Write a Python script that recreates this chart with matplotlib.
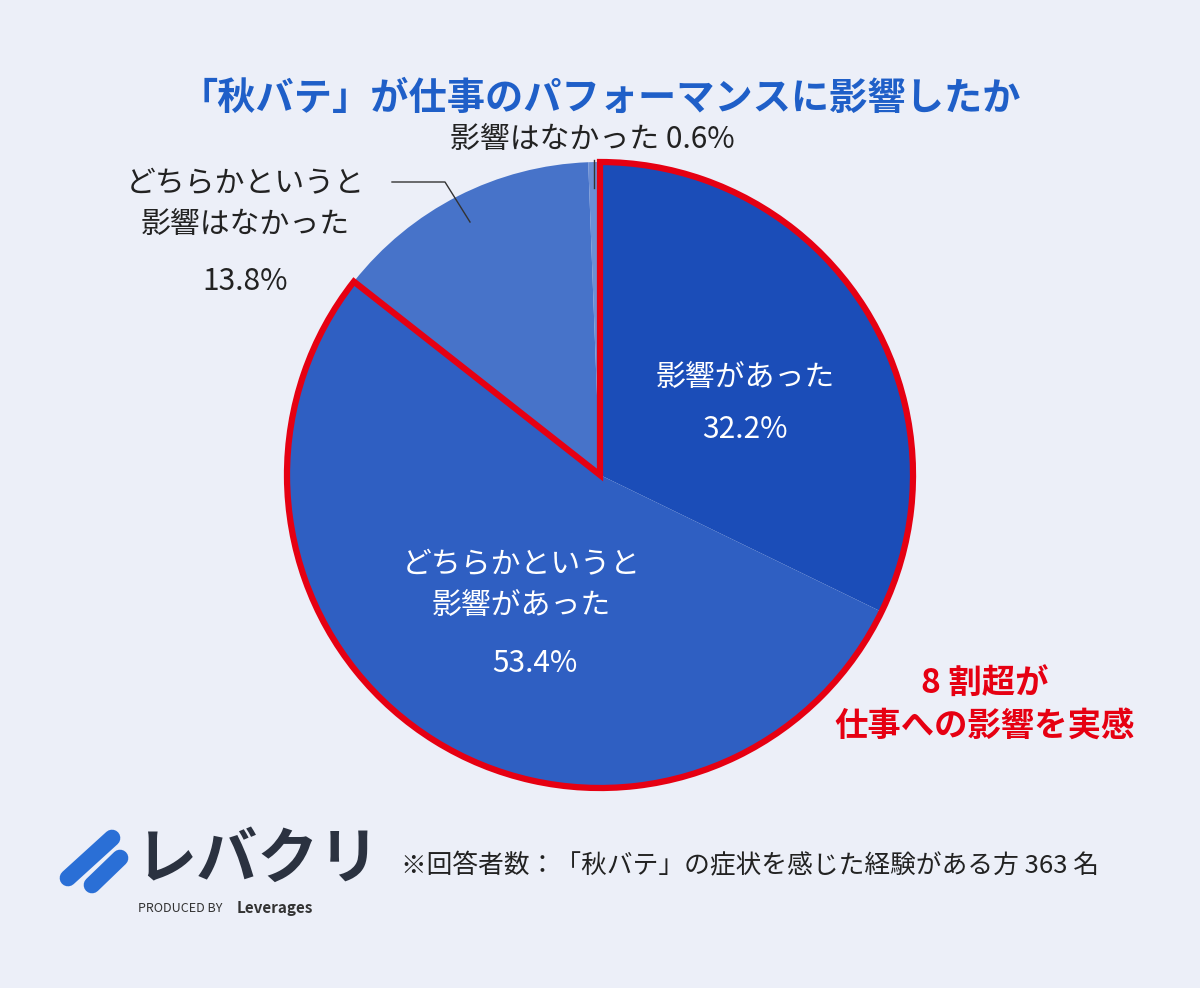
import matplotlib
matplotlib.use("Agg")
import matplotlib.pyplot as plt
from matplotlib.patches import Wedge

plt.rcParams['font.family'] = ['Noto Sans CJK JP', 'DejaVu Sans']

labels = ["影響があった", "どちらかというと\n影響があった", "どちらかというと\n影響はなかった", "影響はなかった"]
values = [32.2, 53.4, 13.8, 0.6]
colors = ["#1b4db8", "#2f5fc2", "#4773c9", "#6b8fd4"]

fig = plt.figure(figsize=(12, 9.88), dpi=100)
fig.patch.set_facecolor("#eceff8")
ax = fig.add_axes([0, 0, 1, 1])
ax.set_facecolor("#eceff8")

cx, cy, r = 600, 988 - 475, 313
ax.pie(values, colors=colors, startangle=90, counterclock=False, center=(cx, cy),
       radius=r, frame=True, wedgeprops=dict(linewidth=0))
ax.set_xlim(0, 1200); ax.set_ylim(0, 988); ax.set_aspect('equal'); ax.axis('off')

span = (values[0] + values[1]) / 100 * 360
ax.add_patch(Wedge((cx, cy), r, 90 - span, 90, fill=False, edgecolor="#e60012", lw=4.5, joinstyle='miter'))

ax.text(600, 988 - 98, "「秋バテ」が仕事のパフォーマンスに影響したか", ha='center', va='center',
        fontsize=27.5, fontweight='bold', color="#1f5fc8")

fs = 21.5
ax.text(745, 988 - 378, "影響があった", ha='center', va='center', fontsize=fs, color='white')
ax.text(745, 988 - 430, "32.2%", ha='center', va='center', fontsize=fs, color='white')
ax.text(521, 988 - 585, "どちらかというと\n影響があった", ha='center', va='center', fontsize=fs,
        color='white', linespacing=1.45)
ax.text(535, 988 - 663, "53.4%", ha='center', va='center', fontsize=fs, color='white')

ax.text(245, 988 - 204, "どちらかというと\n影響はなかった", ha='center', va='center', fontsize=fs,
        color='#222222', linespacing=1.45)
ax.text(245, 988 - 281, "13.8%", ha='center', va='center', fontsize=fs, color='#222222')
ax.plot([392, 445, 470], [988 - 182, 988 - 182, 988 - 222], color='#333333', lw=1)
ax.text(592, 988 - 140, "影響はなかった 0.6%", ha='center', va='center', fontsize=fs, color='#222222')
ax.plot([594, 594], [988 - 160, 988 - 188], color='#333333', lw=1)

ax.text(985, 988 - 705, "8 割超が\n仕事への影響を実感", ha='center', va='center', fontsize=24,
        fontweight='bold', color='#e60012', linespacing=1.35)

# logo
ax.plot([68, 112], [988 - 878, 988 - 838], color='#2a6fd6', lw=12, solid_capstyle='round')
ax.plot([92, 120], [988 - 885, 988 - 858], color='#2a6fd6', lw=12, solid_capstyle='round')
ax.text(135, 988 - 860, "レバクリ", ha='left', va='center', fontsize=44, color='#2b3240', fontweight='bold')
ax.text(138, 988 - 908, "PRODUCED BY", ha='left', va='center', fontsize=9, color='#333333')
ax.text(237, 988 - 908, "Leverages", ha='left', va='center', fontsize=11, color='#333333', fontweight='bold')
ax.text(750, 988 - 866, "※回答者数：「秋バテ」の症状を感じた経験がある方 363 名", ha='center', va='center',
        fontsize=18.5, color='#222222')

fig.savefig("out.png", dpi=100, facecolor=fig.get_facecolor())
